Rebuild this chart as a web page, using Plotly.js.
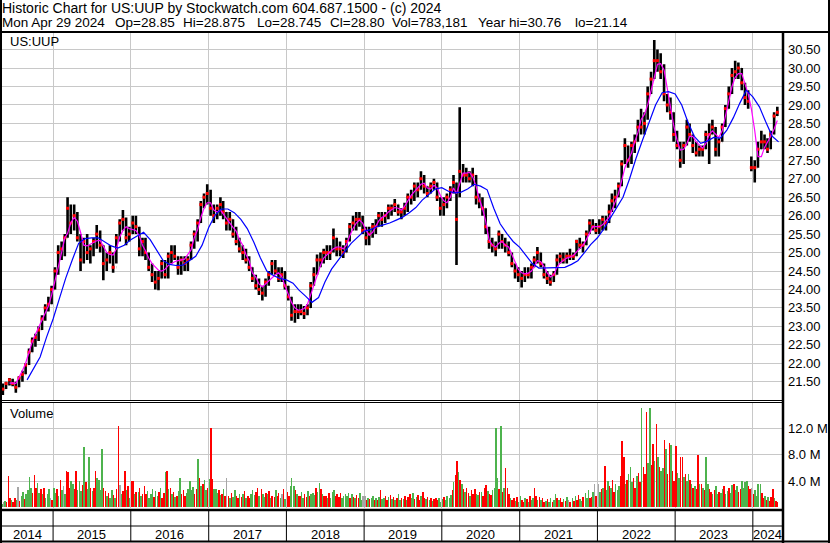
<!DOCTYPE html>
<html><head><meta charset="utf-8">
<script src="https://cdn.plot.ly/plotly-3.0.1.min.js"></script>
<style>html,body{margin:0;padding:0;background:#fff;}#chart{width:830px;height:543px;}</style>
</head><body><div id="chart"></div>
<script>
// ---------- DATA ----------
// semi-monthly price bars (10th and 25th of each month, May 2014 .. Apr 2024)
const priceOpen = [
21.4,21.3,21.45,21.55,21.45,21.35,21.6,21.7,21.95,22.3,22.6,22.7,22.9,23.2,23.5,23.6,
24.0,24.5,25.0,25.1,25.4,26.2,25.8,26.0,25.4,24.8,25.3,25.0,25.1,25.3,25.5,25.2,24.7,24.8,25.0,24.6,25.4,25.8,25.9,25.4,
25.5,25.8,25.7,25.1,25.3,25.0,24.6,24.4,24.2,24.3,24.7,24.4,24.9,25.0,24.9,24.6,24.8,24.7,24.8,25.2,25.5,25.8,26.3,26.5,
26.6,26.2,26.0,26.2,26.3,26.1,25.8,25.9,25.5,25.3,25.1,25.0,24.8,24.6,24.3,24.1,24.0,23.9,24.2,24.4,24.7,24.5,24.3,24.4,
24.1,23.8,23.3,23.4,23.4,23.4,23.35,23.5,24.1,24.4,24.8,24.8,25.0,25.0,25.0,25.4,25.1,25.1,25.0,25.3,25.7,25.8,25.9,25.9,
25.6,25.4,25.5,25.7,25.7,26.0,25.9,26.0,26.2,26.2,26.3,26.1,26.1,26.2,26.5,26.5,26.8,26.7,27.0,26.8,26.6,26.8,26.9,26.5,
26.2,26.3,26.5,26.7,26.9,26.6,27.2,27.1,27.1,27.0,27.1,26.5,26.4,26.2,25.7,25.3,25.2,25.1,25.5,25.3,25.2,25.0,24.7,24.5,
24.4,24.3,24.4,24.4,24.6,24.8,25.0,24.7,24.4,24.3,24.2,24.4,24.8,24.9,24.8,24.9,24.9,24.9,25.3,25.2,25.2,25.5,25.8,25.7,
25.6,25.7,25.9,25.8,26.1,26.4,26.5,26.8,27.4,27.9,27.5,27.9,28.0,28.4,28.4,28.5,29.3,29.7,30.2,30.2,29.9,29.3,29.0,28.8,
28.2,27.9,27.5,27.9,28.4,28.2,27.9,27.7,27.8,27.8,28.2,28.2,28.4,27.8,28.0,28.4,28.9,29.3,29.8,29.9,30.0,29.6,29.2,27.5,
27.3,27.3,27.8,28.0,28.0,27.8,28.2,28.7];
const priceHigh = [
21.45,21.5,21.6,21.58,21.5,21.65,21.8,22.0,22.4,22.7,22.8,23.0,23.3,23.6,23.8,24.1,
24.6,25.2,25.3,25.5,26.5,26.3,26.3,26.1,25.5,25.4,25.5,25.2,25.4,25.75,25.6,25.2,25.0,25.2,25.0,25.5,25.9,26.15,25.95,25.7,
26.0,26.0,25.7,25.4,25.4,25.0,24.7,24.5,24.5,24.8,24.8,25.0,25.2,25.2,24.9,24.9,24.9,24.9,25.3,25.6,25.9,26.4,26.6,26.85,
26.7,26.3,26.3,26.5,26.4,26.1,26.1,25.9,25.7,25.4,25.2,25.1,24.9,24.6,24.4,24.3,24.1,24.3,24.5,24.8,24.8,24.6,24.6,24.5,
24.1,23.8,23.6,23.6,23.6,23.55,23.6,24.2,24.6,24.95,25.0,25.1,25.2,25.2,25.65,25.4,25.3,25.2,25.4,25.8,26.0,26.1,26.1,26.0,
25.7,25.7,25.8,25.9,26.1,26.1,26.1,26.3,26.3,26.45,26.3,26.2,26.35,26.6,26.7,26.9,26.9,27.2,27.1,26.8,26.9,27.0,26.9,26.5,
26.5,26.6,26.8,27.1,26.9,28.94,27.4,27.3,27.2,27.3,27.1,26.6,26.5,26.2,25.7,25.4,25.3,25.6,25.5,25.4,25.3,25.0,24.7,24.6,
24.5,24.6,24.6,24.7,24.9,25.15,25.0,24.7,24.5,24.4,24.5,24.95,25.0,25.0,25.0,25.1,25.0,25.35,25.4,25.3,25.6,25.9,25.9,25.8,
25.9,26.0,26.0,26.3,26.6,26.7,26.9,27.5,28.1,27.9,28.0,28.2,28.6,28.9,28.8,29.5,29.9,30.76,30.5,30.4,30.1,29.3,29.2,28.8,
28.3,28.0,28.0,28.6,28.5,28.2,28.0,27.9,27.9,28.3,28.5,28.6,28.4,28.1,28.5,29.0,29.5,30.0,30.2,30.15,30.0,29.6,29.4,27.6,
27.5,28.0,28.3,28.2,28.1,28.3,28.8,28.95];
const priceLow = [
21.14,21.3,21.4,21.38,21.2,21.35,21.5,21.7,21.95,22.3,22.45,22.6,22.9,23.15,23.4,23.6,
24.0,24.4,24.8,24.9,25.4,25.5,25.6,25.3,24.5,24.7,24.8,24.7,24.9,25.1,25.0,24.25,24.5,24.7,24.45,24.7,25.3,25.6,25.2,25.3,
25.5,25.5,24.9,24.9,24.8,24.5,24.2,24.0,23.98,24.3,24.3,24.3,24.7,24.8,24.4,24.4,24.5,24.5,24.8,25.1,25.3,25.8,26.2,26.3,
26.0,25.8,25.9,26.0,25.9,25.6,25.6,25.4,25.2,25.0,24.8,24.7,24.5,24.2,24.0,23.85,23.7,23.8,24.1,24.4,24.4,24.2,24.2,24.0,
23.7,23.15,23.1,23.2,23.3,23.2,23.3,23.5,24.1,24.4,24.6,24.7,24.8,24.8,25.0,24.9,24.9,24.85,25.0,25.3,25.6,25.6,25.7,25.5,
25.2,25.2,25.4,25.5,25.7,25.7,25.8,25.9,26.0,26.1,26.0,25.9,26.0,26.1,26.3,26.4,26.5,26.7,26.6,26.5,26.6,26.7,26.4,26.0,
26.0,26.2,26.4,26.6,24.66,26.5,26.9,26.9,26.9,26.8,26.3,26.2,26.0,25.5,25.1,25.0,24.9,25.1,25.1,25.0,24.9,24.6,24.3,24.2,
24.05,24.2,24.3,24.3,24.6,24.7,24.6,24.3,24.15,24.1,24.2,24.4,24.7,24.7,24.7,24.8,24.8,24.9,25.1,25.0,25.2,25.5,25.6,25.5,
25.5,25.6,25.6,25.8,26.1,26.2,26.5,26.8,27.4,27.3,27.4,27.7,28.0,28.2,28.2,28.6,29.3,29.7,29.9,29.7,29.1,28.8,28.6,28.0,
27.8,27.3,27.4,27.9,28.0,27.7,27.6,27.6,27.6,27.8,27.4,28.2,27.6,27.6,28.0,28.4,28.9,29.3,29.7,29.7,29.4,29.0,28.9,27.2,
26.9,27.3,27.8,27.8,27.7,27.8,28.2,28.7];
const priceClose = [
21.3,21.45,21.55,21.45,21.35,21.6,21.7,21.95,22.3,22.6,22.7,22.9,23.2,23.5,23.6,24.0,
24.5,25.0,25.1,25.4,26.2,25.8,26.0,25.4,24.8,25.3,25.0,25.1,25.3,25.5,25.2,24.7,24.8,25.0,24.6,25.4,25.8,25.9,25.4,25.5,
25.8,25.7,25.1,25.3,25.0,24.6,24.4,24.2,24.3,24.7,24.4,24.9,25.0,24.9,24.6,24.8,24.7,24.8,25.2,25.5,25.8,26.3,26.5,26.6,
26.2,26.0,26.2,26.3,26.1,25.8,25.9,25.5,25.3,25.1,25.0,24.8,24.6,24.3,24.1,24.0,23.9,24.2,24.4,24.7,24.5,24.3,24.4,24.1,
23.8,23.3,23.4,23.4,23.4,23.35,23.5,24.1,24.4,24.8,24.8,25.0,25.0,25.0,25.4,25.1,25.1,25.0,25.3,25.7,25.8,25.9,25.9,25.6,
25.4,25.5,25.7,25.7,26.0,25.9,26.0,26.2,26.2,26.3,26.1,26.1,26.2,26.5,26.5,26.8,26.7,27.0,26.8,26.6,26.8,26.9,26.5,26.2,
26.3,26.5,26.7,26.9,25.9,27.2,27.1,27.1,27.0,27.1,26.5,26.4,26.2,25.7,25.3,25.2,25.1,25.5,25.3,25.2,25.0,24.7,24.5,24.4,
24.3,24.4,24.4,24.6,24.8,25.0,24.7,24.4,24.3,24.2,24.4,24.8,24.9,24.8,24.9,24.9,24.9,25.3,25.2,25.2,25.5,25.8,25.7,25.6,
25.7,25.9,25.8,26.1,26.4,26.5,26.8,27.4,27.9,27.5,27.9,28.0,28.4,28.4,28.5,29.3,29.7,30.2,30.2,29.9,29.3,29.0,28.8,28.2,
27.9,27.5,27.9,28.4,28.2,27.9,27.7,27.8,27.8,28.2,28.2,28.4,27.8,28.0,28.4,28.9,29.3,29.8,29.9,30.0,29.6,29.2,29.1,27.3,
27.3,27.8,28.0,28.0,27.8,28.2,28.7,28.8];
// short moving average (magenta), same dates as the price bars
const shortMA = [
null,null,21.46,21.47,21.45,21.6,21.8,22.0,22.3,22.58,22.78,22.98,23.15,23.35,23.55,23.85,
24.2,24.6,25.0,25.4,25.52,25.8,25.95,25.85,25.55,25.2,25.18,25.22,25.27,25.32,25.33,25.15,25.0,24.95,24.93,25.1,25.42,25.6,25.7,25.65,
25.62,25.6,25.45,25.2,25.05,24.85,24.7,24.6,24.52,24.5,24.55,24.65,24.7,24.75,24.78,24.8,24.82,24.95,25.07,25.4,25.62,25.95,26.2,26.35,
26.35,26.15,26.1,26.15,26.05,25.9,25.8,25.68,25.58,25.35,25.2,24.95,24.78,24.45,24.34,24.15,24.07,24.15,24.22,24.3,24.4,24.45,24.35,24.1,
23.85,23.65,23.5,23.44,23.45,23.48,23.6,23.85,24.1,24.4,24.65,24.85,24.95,25.02,25.1,25.15,25.15,25.1,25.2,25.45,25.65,25.8,25.88,25.8,
25.6,25.47,25.55,25.72,25.85,25.95,26.0,26.1,26.17,26.22,26.2,26.15,26.25,26.4,26.55,26.65,26.75,26.85,26.88,26.75,26.72,26.82,26.75,26.55,
26.4,26.35,26.5,26.75,26.6,26.9,27.15,27.15,27.18,27.05,26.8,26.45,26.2,25.85,25.35,25.2,25.15,25.25,25.3,25.2,25.15,24.95,24.75,24.55,
24.45,24.42,24.44,24.5,24.62,24.78,24.75,24.62,24.45,24.34,24.4,24.6,24.72,24.78,24.85,24.88,24.92,25.02,25.12,25.2,25.35,25.55,25.7,25.7,
25.7,25.75,25.85,25.96,26.15,26.35,26.6,26.95,27.3,27.5,27.7,28.0,28.25,28.6,28.75,29.0,29.4,29.8,30.1,30.12,29.95,29.45,28.95,28.45,
28.05,27.78,27.8,27.95,28.15,28.15,28.0,27.9,27.83,27.95,28.2,28.3,28.2,28.12,28.3,28.7,29.05,29.5,29.75,29.85,29.85,29.55,29.3,28.9,
28.3,27.6,27.6,27.85,27.98,28.15,28.35,28.58];
// long moving average (blue), 1st of each month Sep 2014 .. May 2024
const longMA = [
21.55,21.85,22.17,22.7,
23.2,23.78,24.3,24.8,25.25,25.38,25.4,25.4,25.3,25.18,25.12,25.2,
25.35,25.45,25.55,25.35,25.05,24.78,24.68,24.65,24.66,24.78,24.9,25.2,
25.68,26.02,26.18,26.18,26.08,25.9,25.65,25.28,24.85,24.5,24.38,24.3,
24.26,24.17,23.98,23.82,23.65,23.78,24.2,24.55,24.8,25.02,25.25,25.42,
25.58,25.62,25.7,25.75,25.8,25.88,25.96,26.08,26.22,26.42,26.56,26.72,
26.76,26.66,26.62,26.64,26.72,26.85,26.8,26.7,26.2,25.78,25.52,25.3,
25.14,24.9,24.7,24.58,24.58,24.58,24.58,24.6,24.68,24.78,25.0,25.22,
25.4,25.65,25.92,26.2,26.5,27.0,27.55,28.05,28.55,29.0,29.33,29.36,
29.3,29.0,28.55,28.15,27.96,28.02,28.12,28.1,28.32,28.65,29.05,29.4,
29.22,28.95,28.55,28.15,28.0];
// volume (millions), four bars per month (5th, 12th, 19th, 26th)
const volume = [
0.6,0.8,1.0,0.9, 4.8,1.5,1.2,0.8, 1.5,1.2,3.1,1.0, 1.8,2.4,1.3,2.0, 2.6,4.6,3.0,2.2, 4.9,3.0,3.7,2.2, 2.8,2.0,3.0,1.5, 2.0,2.8,1.5,1.2,
3.0,2.2,2.8,1.8, 4.1,2.7,3.2,2.0, 5.5,5.3,3.0,4.0, 3.6,2.8,5.5,2.6, 4.0,2.5,3.4,9.2, 3.8,2.8,7.6,3.0, 2.5,3.0,5.6,4.4, 4.2,2.6,8.9,3.0, 2.5,1.8,2.2,1.5, 2.6,1.9,1.4,2.8, 12.4,3.4,2.0,2.5, 5.5,2.6,3.2,1.5,
4.0,4.0,2.0,2.4, 2.3,3.0,1.8,2.0, 3.3,2.0,2.5,1.4, 2.0,2.8,1.6,2.5, 1.7,2.4,2.9,1.5, 2.2,5.4,5.6,2.8, 3.0,2.0,2.4,1.6, 1.8,2.5,4.5,2.0, 2.6,1.8,2.2,2.8, 4.0,2.6,3.1,2.0, 2.8,7.3,4.5,3.3, 3.5,4.2,2.6,3.0,
4.3,12.0,4.3,2.8, 2.8,2.2,2.6,1.9, 2.0,2.8,1.8,4.5, 1.8,1.4,2.2,1.6, 2.6,1.8,1.5,2.0, 1.6,2.0,2.5,1.4, 1.8,1.5,2.0,2.7, 1.9,2.3,2.9,1.7, 2.8,2.1,1.6,2.2, 2.0,2.5,1.5,1.8, 1.6,2.7,1.8,2.2, 1.5,2.0,2.8,1.3,
2.4,1.8,3.2,4.4, 3.3,2.6,2.0,1.8, 1.8,2.4,1.5,2.0, 1.6,2.5,1.8,2.0, 2.2,1.9,2.9,2.4, 3.7,2.8,2.0,1.8, 1.8,1.5,2.2,1.4, 2.3,2.6,1.7,2.0, 1.6,2.2,1.4,1.8, 2.0,1.7,2.2,1.5, 2.1,1.6,1.4,1.9, 1.5,2.2,1.2,1.8,
1.8,1.2,1.5,1.3, 1.4,1.7,1.1,1.5, 1.2,1.6,2.7,1.3, 1.4,1.8,1.1,1.6, 1.9,1.3,1.6,1.2, 1.5,2.1,1.2,1.4, 1.3,1.8,1.1,1.6, 2.0,1.5,2.2,1.3, 1.6,1.9,1.2,1.7, 2.4,1.5,1.3,1.6, 1.2,1.4,1.0,1.3, 1.5,1.1,1.4,0.9,
1.3,1.6,1.2,1.8, 1.5,1.9,2.6,3.8, 4.9,7.1,5.4,4.2, 3.6,2.8,2.4,3.0, 2.2,1.8,2.6,2.0, 2.8,2.1,1.9,2.4, 2.3,1.8,2.9,3.4, 2.5,2.1,1.9,2.6, 3.0,12.0,4.5,2.8, 12.4,2.4,3.0,6.0, 3.0,2.0,1.5,1.2, 1.4,1.0,1.6,0.9,
1.8,1.2,0.9,1.5, 1.3,0.9,1.7,1.1, 1.5,3.0,1.8,1.2, 1.6,1.1,1.4,0.8, 1.0,1.3,0.9,1.5, 0.9,1.2,2.0,1.4, 1.1,1.5,0.9,1.3, 1.0,1.6,1.2,0.8, 1.4,1.0,1.7,1.2, 1.9,1.3,1.0,1.6, 2.2,1.5,2.6,1.4, 1.6,2.4,3.5,1.8,
3.5,2.4,2.8,3.0, 6.3,2.6,4.0,3.2, 3.0,4.2,2.4,3.5, 2.6,3.3,4.8,10.1, 7.6,3.5,4.2,5.0, 6.2,3.8,4.5,3.0, 4.8,5.2,3.8,15.0, 6.2,5.0,14.5,6.8, 15.0,6.5,9.6,7.0, 12.6,7.6,6.2,5.5, 6.0,10.2,8.8,5.0, 9.8,9.5,5.5,4.0,
9.3,5.2,4.5,7.6, 7.6,4.6,5.0,4.0, 5.0,4.2,3.6,3.0, 3.2,2.8,7.9,3.5, 3.6,3.0,2.6,7.6, 3.5,2.8,2.4,2.0, 2.6,3.2,2.0,2.4, 2.2,2.8,3.2,2.0, 2.5,3.0,2.2,3.4, 3.6,2.6,3.2,2.4, 2.8,4.0,3.0,3.8, 4.0,3.2,2.8,3.0,
2.0,2.6,1.8,3.5, 3.6,2.2,1.5,1.8, 1.2,1.6,1.0,1.6, 2.8,1.4,1.0,0.8];
// day direction of each volume bar: g = up, r = down, n = unchanged
const volumeDir =
 "gngr"+"rrgr"+"rgnr"+"ggrg"+"gggr"+"rrgg"+"rgrg"+"ggnr"+
 "ggrg"+"rgng"+"rrrg"+"grrg"+"ggrg"+"rggr"+"grrg"+"gggr"+"rgrg"+"grgr"+"rngr"+"rgrg"+
 "rrgr"+"grgr"+"rrgg"+"ggrg"+"grgr"+"rgrg"+"rgrg"+"rggr"+"rrgg"+"gggr"+"rgrg"+"rggr"+
 "grrg"+"ggrg"+"rgrn"+"rgrg"+"grrg"+"rgrg"+"rrgg"+"grrg"+"rggr"+"grgr"+"rgrr"+"gnrg"+
 "rrgg"+"grgr"+"rggr"+"rgrg"+"ggrg"+"grgr"+"rgrg"+"ggrr"+"rrgg"+"gggr"+"grgr"+"rggn"+
 "nrgr"+"ggrg"+"rgrg"+"grrg"+"rgrg"+"rggr"+"grgr"+"rggr"+"grrg"+"rrgr"+"grgr"+"rrgg"+
 "grgg"+"ggrg"+"rrgr"+"grgr"+"rgrr"+"rggr"+"grrr"+"grrg"+"gggr"+"grgr"+"rrgr"+"rgrg"+
 "grrg"+"rgrg"+"grrg"+"rgrr"+"grgg"+"rggr"+"grrg"+"rgnr"+"grgr"+"rggr"+"gggr"+"rgnr"+
 "ngrg"+"rggr"+"grrg"+"ggrr"+"rgrg"+"ggrr"+"grrg"+"rrrg"+"grrg"+"rgrg"+"grgr"+"rgrr"+
 "rggr"+"rgrg"+"grgr"+"grrg"+"rgrg"+"grrg"+"rggr"+"ggrg"+"grgg"+"rggr"+"rggg"+"grrn"+
 "rggg"+"grrg"+"rgrr"+"rgrr";
const yearLabels = ['2014','2015','2016','2017','2018','2019','2020','2021','2022','2023','2024'];
const volTickVals = [4, 8, 12];
const volTickText = ['4.0 M', '8.0 M', '12.0 M'];
const titleLine1 = 'Historic Chart for US:UUP by Stockwatch.com 604.687.1500 - (c) 2024';
const titleLine2 = ['Mon Apr 29 2024','Op=28.85','Hi=28.875','Lo=28.745','Cl=28.80','Vol=783,181','Year hi=30.76','lo=21.14'];

// ---------- date grids ----------
function ymd(y,m,d){return y+'-'+String(m).padStart(2,'0')+'-'+String(d).padStart(2,'0');}
function grid(y0,m0,months,days){const out=[];for(let i=0;i<months;i++){const y=y0+Math.floor((m0-1+i)/12);const m=(m0-1+i)%12+1;for(const d of days)out.push(ymd(y,m,d));}return out;}
const priceDates = grid(2014,5,120,[10,25]);
const volDates = grid(2014,5,120,[5,12,19,26]);
const longDates = grid(2014,9,longMA.length,[1]);

// ---------- geometry ----------
const L=2, R=782, T=33, B=508;
const X0='2014-05-06', X1='2024-05-17';
const px = x => (x-L)/(R-L);
const py = y => (B-y)/(B-T);
const yearStarts = yearLabels.slice(1).map(y=>y+'-01-01');
function mid(a,b){const t=(new Date(a).getTime()+new Date(b).getTime())/2;return new Date(t).toISOString().slice(0,10);}
const bounds=[X0].concat(yearStarts).concat([X1]);

const colorMap={g:'#4db34d',r:'#ff0000',n:'#a6a6a6'};
const traces = [
 {type:'bar', x:volDates, y:volume, xaxis:'x', yaxis:'y2',
  marker:{color:volumeDir.split('').map(c=>colorMap[c]), line:{width:0}}, hoverinfo:'skip'},
 {type:'ohlc', x:priceDates, open:priceOpen, high:priceHigh, low:priceLow, close:priceClose,
  xaxis:'x', yaxis:'y', tickwidth:0.05,
  increasing:{line:{color:'#000',width:2.6}}, decreasing:{line:{color:'#000',width:2.6}}, hoverinfo:'skip'},
 {type:'scatter', mode:'markers', x:priceDates, y:priceClose, xaxis:'x', yaxis:'y',
  marker:{symbol:'square', size:3, color:'#ff0000'}, hoverinfo:'skip'},
 {type:'scatter', mode:'lines', x:priceDates, y:shortMA, xaxis:'x', yaxis:'y',
  line:{color:'#ff00ff', width:1.2}, hoverinfo:'skip'},
 {type:'scatter', mode:'lines', x:longDates, y:longMA, xaxis:'x', yaxis:'y',
  line:{color:'#0000ff', width:1.2}, hoverinfo:'skip'}
];

function hline(y,x0,x1,w){return {type:'line',xref:'paper',yref:'paper',x0:px(x0),x1:px(x1),y0:py(y),y1:py(y),line:{color:'#000',width:w},layer:'above'};}
function vline(x,y0,y1,w){return {type:'line',xref:'paper',yref:'paper',x0:px(x),x1:px(x),y0:py(y0),y1:py(y1),line:{color:'#000',width:w},layer:'above'};}
const shapes=[
 hline(32,0,830,2),
 vline(1,0,543,2), vline(783,32,543,2.5), vline(829,0,543,2),
 hline(400.5,0,783,1), hline(402.5,0,783,1),
 hline(510,0,783,2.5), hline(526,0,783,1), hline(541.5,0,830,2)
];
yearStarts.forEach(d=>shapes.push({type:'line',xref:'x',yref:'paper',x0:d,x1:d,y0:py(510),y1:py(541),line:{color:'#000',width:1},layer:'above'}));

const txt = {family:'"Liberation Sans", Arial, sans-serif', size:13, color:'#000'};
const title1Font = {family:'"Liberation Sans", Arial, sans-serif', size:14, color:'#000'};
const title2Font = {family:'"Liberation Sans", Arial, sans-serif', size:13.5, color:'#000'};
const annotations=[];
annotations.push({xref:'paper',yref:'paper',x:px(1),y:py(7.5),xanchor:'left',yanchor:'middle',text:titleLine1,showarrow:false,font:title1Font,borderpad:0});
const line2X=[1,114,182,256,329,391,477,574];
titleLine2.forEach((t,i)=>annotations.push({xref:'paper',yref:'paper',x:px(line2X[i]),y:py(22.5),xanchor:'left',yanchor:'middle',text:t,showarrow:false,font:title2Font,borderpad:0}));
annotations.push({xref:'paper',yref:'paper',x:px(8),y:py(42),xanchor:'left',yanchor:'middle',text:'US:UUP',showarrow:false,font:txt});
annotations.push({xref:'paper',yref:'paper',x:px(8),y:py(413),xanchor:'left',yanchor:'middle',text:'Volume',showarrow:false,font:txt});
yearLabels.forEach((y,i)=>annotations.push({xref:'x',yref:'paper',x:mid(bounds[i],bounds[i+1]),y:py(534.5),xanchor:'center',yanchor:'middle',text:y,showarrow:false,font:txt}));

const layout={
 width:830,height:543,margin:{l:L,r:830-R,t:T,b:543-B},
 paper_bgcolor:'#fff',plot_bgcolor:'#fff',showlegend:false,bargap:0,
 font:txt,
 xaxis:{type:'date',range:[X0,X1],anchor:'y2',tickvals:yearStarts,showticklabels:false,ticks:'',
   showgrid:true,gridcolor:'#c8c8c8',gridwidth:1,zeroline:false,showline:false,rangeslider:{visible:false},fixedrange:true},
 yaxis:{domain:[py(400),1],range:[21.004,30.95],side:'right',anchor:'x',tick0:21.5,dtick:0.5,tickformat:'.2f',
   showgrid:true,gridcolor:'#c8c8c8',gridwidth:1,ticks:'',zeroline:false,showline:false,ticklabelstandoff:5,tickfont:txt,fixedrange:true},
 yaxis2:{domain:[0,py(403)],range:[-0.08,15.83],side:'right',anchor:'x',tickvals:volTickVals,ticktext:volTickText,
   showgrid:true,gridcolor:'#c8c8c8',gridwidth:1,ticks:'',zeroline:false,showline:false,ticklabelstandoff:5,tickfont:txt,fixedrange:true},
 shapes:shapes,annotations:annotations
};
Plotly.newPlot('chart',traces,layout,{displayModeBar:false,staticPlot:true});
</script></body></html>
